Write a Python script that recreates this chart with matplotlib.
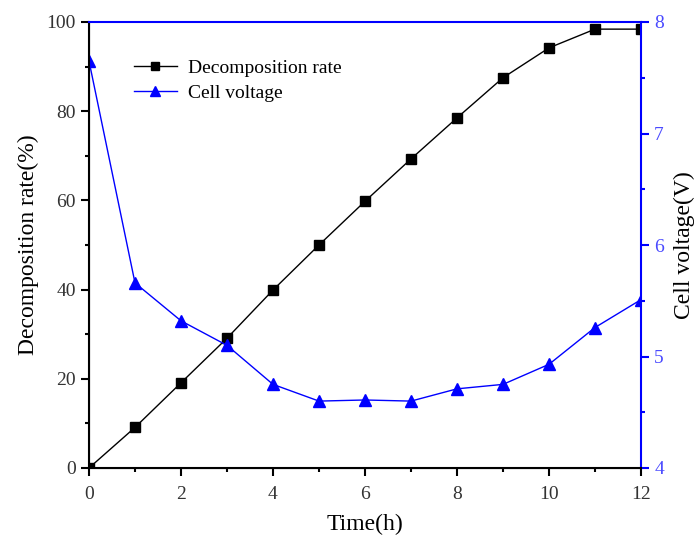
import matplotlib
matplotlib.use("Agg")
import matplotlib.pyplot as plt
from matplotlib.ticker import MultipleLocator

plt.rcParams['font.family'] = ['Liberation Serif', 'DejaVu Serif']

time_h = [0, 1, 2, 3, 4, 5, 6, 7, 8, 9, 10, 11, 12]
decomposition = [0, 9.1, 19.1, 29.1, 39.9, 50.0, 59.8, 69.3, 78.5, 87.5, 94.2, 98.4, 98.4]
voltage = [7.65, 5.66, 5.32, 5.10, 4.75, 4.60, 4.61, 4.60, 4.71, 4.75, 4.93, 5.26, 5.51]

blue = '#0000ff'
fig = plt.figure(figsize=(6.96, 5.35), dpi=100)
ax = fig.add_axes([89/696, 1-468/535, (641-89)/696, (468-22)/535])
ax2 = ax.twinx()

l1, = ax.plot(time_h, decomposition, color='black', lw=1, marker='s', ms=7,
              label='Decomposition rate')
l2, = ax2.plot(time_h, voltage, color=blue, lw=1, marker='^', ms=9,
               label='Cell voltage')

ax.set_xlim(0, 12)
ax.set_ylim(0, 100)
ax2.set_ylim(4, 8)
ax.xaxis.set_major_locator(MultipleLocator(2))
ax.xaxis.set_minor_locator(MultipleLocator(1))
ax.yaxis.set_major_locator(MultipleLocator(20))
ax.yaxis.set_minor_locator(MultipleLocator(10))
ax2.yaxis.set_major_locator(MultipleLocator(1))
ax2.yaxis.set_minor_locator(MultipleLocator(0.5))

ax2.spines['right'].set_color(blue)
ax2.spines['top'].set_color(blue)
for s in ['left', 'bottom', 'right', 'top']:
    ax2.spines[s].set_linewidth(1.5)
ax.spines['top'].set_visible(False)
ax.spines['right'].set_visible(False)

ax.tick_params(axis='both', which='major', direction='out', length=6, width=1.5,
               labelsize=14, labelcolor='#333333')
ax.tick_params(axis='both', which='minor', direction='out', length=3, width=1.5)
ax.tick_params(axis='x', which='both', top=False, pad=7)
ax2.tick_params(axis='y', which='major', direction='out', length=6, width=1.5,
                colors=blue, labelsize=14, labelcolor='#4a4aff')
ax2.tick_params(axis='y', which='minor', direction='out', length=3, width=1.5, colors=blue)
ax2.tick_params(axis='x', which='major', top=True, bottom=False, direction='in',
                length=7, width=1.5, colors=blue, labeltop=False, labelbottom=False)
ax2.tick_params(axis='x', which='minor', top=True, bottom=False, direction='in',
                length=4, width=1.5, colors=blue, labeltop=False, labelbottom=False)

ax.set_xlabel('Time(h)', fontsize=17, labelpad=8)
ax.set_ylabel('Decomposition rate(%)', fontsize=17, labelpad=5)
ax2.set_ylabel('Cell voltage(V)', fontsize=17, color='black', labelpad=7)

ax.legend(handles=[l1, l2], loc='upper left', bbox_to_anchor=(0.067, 0.934),
          frameon=False, fontsize=14, handlelength=2.2, labelspacing=0.4,
          handletextpad=0.57, borderaxespad=0, markerscale=0.85)

fig.savefig('out.png', dpi=100)
